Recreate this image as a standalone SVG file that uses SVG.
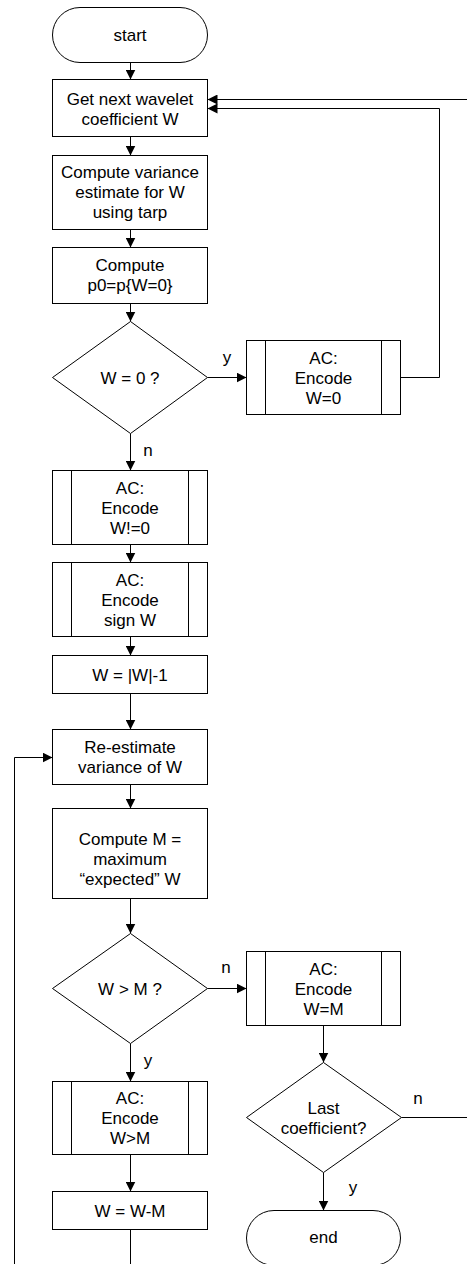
<svg xmlns="http://www.w3.org/2000/svg" width="467" height="1264" viewBox="0 0 467 1264">
  <style>
    .shape { fill: #ffffff; stroke: #000000; stroke-width: 1; }
    .inner { fill: none; stroke: #000000; stroke-width: 1; }
    .conn { fill: none; stroke: #000000; stroke-width: 1; }
    text { font-family: "Liberation Sans", Arial, sans-serif; font-size: 17px; fill: #000000; text-anchor: middle; }
  </style>
  <defs>
    <marker id="arrow" viewBox="0 0 10 10" refX="10" refY="5" markerWidth="10" markerHeight="10" markerUnits="userSpaceOnUse" orient="auto">
      <path d="M0,0 L10,5 L0,10 z" fill="#000000"/>
    </marker>
  </defs>

  <!-- connectors -->
  <g id="connectors">
    <line class="conn" x1="130.5" y1="62.5" x2="130.5" y2="79.5" marker-end="url(#arrow)"/>
    <line class="conn" x1="130.5" y1="136.5" x2="130.5" y2="155.5" marker-end="url(#arrow)"/>
    <line class="conn" x1="130.5" y1="229.5" x2="130.5" y2="247.5" marker-end="url(#arrow)"/>
    <line class="conn" x1="130.5" y1="303.5" x2="130.5" y2="321.5" marker-end="url(#arrow)"/>
    <line class="conn" x1="207.5" y1="377.5" x2="246.5" y2="377.5" marker-end="url(#arrow)"/>
    <polyline class="conn" points="400.5,377.5 439.5,377.5 439.5,108.5 207.5,108.5" marker-end="url(#arrow)"/>
    <polyline class="conn" points="467,99.5 207.5,99.5" marker-end="url(#arrow)"/>
    <line class="conn" x1="130.5" y1="433.5" x2="130.5" y2="470.5" marker-end="url(#arrow)"/>
    <line class="conn" x1="130.5" y1="544.5" x2="130.5" y2="562.5" marker-end="url(#arrow)"/>
    <line class="conn" x1="130.5" y1="636.5" x2="130.5" y2="655.5" marker-end="url(#arrow)"/>
    <line class="conn" x1="130.5" y1="693.5" x2="130.5" y2="729.5" marker-end="url(#arrow)"/>
    <line class="conn" x1="130.5" y1="784.5" x2="130.5" y2="808.5" marker-end="url(#arrow)"/>
    <line class="conn" x1="130.5" y1="898.5" x2="130.5" y2="933.5" marker-end="url(#arrow)"/>
    <line class="conn" x1="207.5" y1="988.5" x2="246.5" y2="988.5" marker-end="url(#arrow)"/>
    <line class="conn" x1="323.5" y1="1025.5" x2="323.5" y2="1062.5" marker-end="url(#arrow)"/>
    <line class="conn" x1="401.5" y1="1117.5" x2="467" y2="1117.5"/>
    <line class="conn" x1="323.5" y1="1172.5" x2="323.5" y2="1210.5" marker-end="url(#arrow)"/>
    <line class="conn" x1="130.5" y1="1043.5" x2="130.5" y2="1081.5" marker-end="url(#arrow)"/>
    <line class="conn" x1="130.5" y1="1154.5" x2="130.5" y2="1191.5" marker-end="url(#arrow)"/>
    <line class="conn" x1="130.5" y1="1229.5" x2="130.5" y2="1264"/>
    <polyline class="conn" points="14.5,1264 14.5,757.5 52.5,757.5" marker-end="url(#arrow)"/>
    <text x="227" y="363">y</text>
    <text x="148" y="456">n</text>
    <text x="226" y="973">n</text>
    <text x="148" y="1066">y</text>
    <text x="418" y="1104">n</text>
    <text x="353" y="1193">y</text>
  </g>

  <g id="start">
    <rect class="shape" x="52.5" y="7.5" width="155" height="55" rx="27.5" ry="27.5"/>
    <text x="130" y="41">start</text>
  </g>

  <g id="get-next">
    <rect class="shape" x="52.5" y="79.5" width="155" height="57"/>
    <text x="130" y="105">Get next wavelet</text>
    <text x="130" y="125">coefficient W</text>
  </g>

  <g id="variance-estimate">
    <rect class="shape" x="52.5" y="155.5" width="155" height="74"/>
    <text x="130" y="178">Compute variance</text>
    <text x="130" y="198">estimate for W</text>
    <text x="130" y="218">using tarp</text>
  </g>

  <g id="compute-p0">
    <rect class="shape" x="52.5" y="247.5" width="155" height="56"/>
    <text x="130" y="271">Compute</text>
    <text x="130" y="291">p0=p{W=0}</text>
  </g>

  <g id="is-zero">
    <polygon class="shape" points="130.5,321.5 207.5,377.5 130.5,433.5 52.5,377.5"/>
    <text x="130" y="383.5">W = 0 ?</text>
  </g>

  <g id="encode-zero">
    <rect class="shape" x="246.5" y="340.5" width="154" height="74"/>
    <line class="inner" x1="265.5" y1="340.5" x2="265.5" y2="414.5"/>
    <line class="inner" x1="381.5" y1="340.5" x2="381.5" y2="414.5"/>
    <text x="323.5" y="363.5">AC:</text>
    <text x="323.5" y="383.5">Encode</text>
    <text x="323.5" y="403.5">W=0</text>
  </g>

  <g id="encode-nonzero">
    <rect class="shape" x="52.5" y="470.5" width="155" height="74"/>
    <line class="inner" x1="71.5" y1="470.5" x2="71.5" y2="544.5"/>
    <line class="inner" x1="188.5" y1="470.5" x2="188.5" y2="544.5"/>
    <text x="130" y="493.5">AC:</text>
    <text x="130" y="513.5">Encode</text>
    <text x="130" y="533.5">W!=0</text>
  </g>

  <g id="encode-sign">
    <rect class="shape" x="52.5" y="562.5" width="155" height="74"/>
    <line class="inner" x1="71.5" y1="562.5" x2="71.5" y2="636.5"/>
    <line class="inner" x1="188.5" y1="562.5" x2="188.5" y2="636.5"/>
    <text x="130" y="585.5">AC:</text>
    <text x="130" y="605.5">Encode</text>
    <text x="130" y="625.5">sign W</text>
  </g>

  <g id="abs-minus-one">
    <rect class="shape" x="52.5" y="655.5" width="155" height="38"/>
    <text x="130" y="680.5">W = |W|-1</text>
  </g>

  <g id="re-estimate">
    <rect class="shape" x="52.5" y="729.5" width="155" height="55"/>
    <text x="130" y="752.5">Re-estimate</text>
    <text x="130" y="772.5">variance of W</text>
  </g>

  <g id="compute-m">
    <rect class="shape" x="52.5" y="808.5" width="155" height="90"/>
    <text x="130" y="844.5">Compute M =</text>
    <text x="130" y="864.5">maximum</text>
    <text x="130" y="884.5">“expected” W</text>
  </g>

  <g id="greater-than-m">
    <polygon class="shape" points="130.5,933.5 207.5,988.5 130.5,1043.5 52.5,988.5"/>
    <text x="130" y="994.5">W &gt; M ?</text>
  </g>

  <g id="encode-equal-m">
    <rect class="shape" x="246.5" y="951.5" width="154" height="74"/>
    <line class="inner" x1="265.5" y1="951.5" x2="265.5" y2="1025.5"/>
    <line class="inner" x1="381.5" y1="951.5" x2="381.5" y2="1025.5"/>
    <text x="323.5" y="974.5">AC:</text>
    <text x="323.5" y="994.5">Encode</text>
    <text x="323.5" y="1014.5">W=M</text>
  </g>

  <g id="last-coefficient">
    <polygon class="shape" points="323.5,1062.5 401.5,1117.5 323.5,1172.5 246.5,1117.5"/>
    <text x="323.5" y="1113.5">Last</text>
    <text x="323.5" y="1133.5">coefficient?</text>
  </g>

  <g id="end">
    <rect class="shape" x="246.5" y="1210.5" width="154" height="55" rx="27.5" ry="27.5"/>
    <text x="323.5" y="1243">end</text>
  </g>

  <g id="encode-greater-m">
    <rect class="shape" x="52.5" y="1081.5" width="155" height="73"/>
    <line class="inner" x1="71.5" y1="1081.5" x2="71.5" y2="1154.5"/>
    <line class="inner" x1="188.5" y1="1081.5" x2="188.5" y2="1154.5"/>
    <text x="130" y="1103.5">AC:</text>
    <text x="130" y="1123.5">Encode</text>
    <text x="130" y="1143.5">W&gt;M</text>
  </g>

  <g id="subtract-m">
    <rect class="shape" x="52.5" y="1191.5" width="155" height="38"/>
    <text x="130" y="1216.5">W = W-M</text>
  </g>
</svg>
